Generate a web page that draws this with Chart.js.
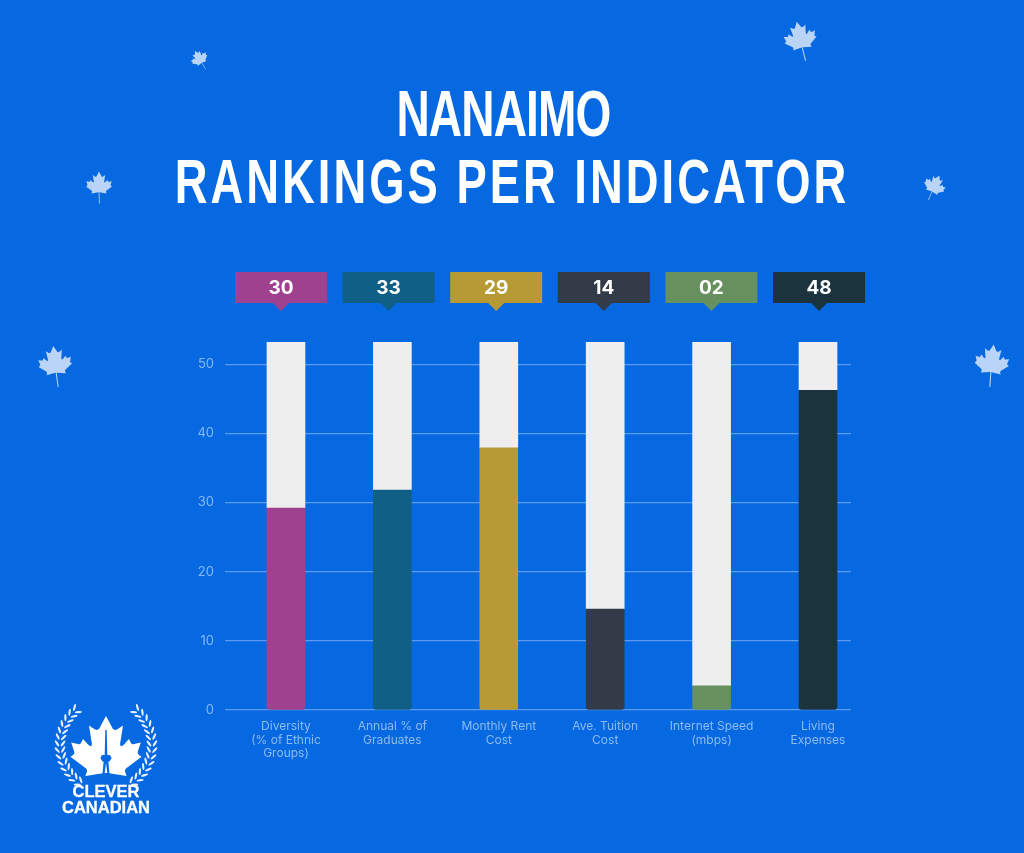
<!DOCTYPE html>
<html lang="en">
<head>
<meta charset="UTF-8">
<title>Nanaimo Rankings Per Indicator</title>
<style>
    html, body { margin: 0; padding: 0; }
    body { width: 1024px; height: 853px; overflow: hidden; background: #0769e2; position: relative; font-family: Inter, Arial, sans-serif; }
    canvas { position: absolute; left: 0; top: 0; }
    svg.deco { position: absolute; left: 0; top: 0; }
    .title { position: absolute; left: 0; text-align: center; color: #fff; font-family: "Liberation Sans", Arial, sans-serif; font-weight: 700; white-space: nowrap; transform: scaleX(0.72); transform-origin: center; }
    .brand { position: absolute; left: 36px; width: 140px; text-align: center; color: #fff; font-family: "Liberation Sans", Arial, sans-serif; font-weight: 700; font-size: 16.5px; line-height: 16px; top: 783px; -webkit-text-stroke: 0.3px #fff; }
</style>
<script src="https://cdn.jsdelivr.net/npm/chart.js"></script>
</head>
<body>
<svg class="deco" id="deco" width="1024" height="853" viewBox="0 0 1024 853">
    <defs>
        <path id="leaf" d="M50 4 L59 21 Q62 25 67 21 L73 17 L69 42 Q69 47 74 43 L81 35 L84 41 Q85 43 88 42 L97 40 L93 52 Q92 55 95 57 L98 59 L77 75 Q75 77 76 80 L78 85 L52 81 L48 81 L22 85 L24 80 Q25 77 23 75 L2 59 L5 57 Q8 55 7 52 L3 40 L12 42 Q15 43 16 41 L19 35 L26 43 Q31 47 31 42 L27 17 L33 21 Q38 25 41 21 Z"/>
        <path id="stem" d="M48.5 78 L51.5 78 L53 122 L50 122 Z"/>
    </defs>
</svg>
<div class="title" style="top:74px;width:1007px;font-size:64px;line-height:80px;letter-spacing:-1.2px;">NANAIMO</div>
<div class="title" style="top:141px;width:1024px;font-size:63px;line-height:80px;letter-spacing:4.2px;">RANKINGS PER INDICATOR</div>
<canvas id="rankChart" width="1024" height="853"></canvas>
<div class="brand">CLEVER<br>CANADIAN</div>
<script>
    const categories = [
        ['Diversity', '(% of Ethnic', 'Groups)'],
        ['Annual % of', 'Graduates'],
        ['Monthly Rent', 'Cost'],
        ['Ave. Tuition', 'Cost'],
        ['Internet Speed', '(mbps)'],
        ['Living', 'Expenses']
    ];
    const rankValues = [29.2, 31.8, 37.9, 14.6, 3.5, 46.2];
    const remainderValues = [24.0, 21.4, 15.3, 38.6, 49.7, 7.0];
    const badgeLabels = ['30', '33', '29', '14', '02', '48'];
    const barColors = ['#a0418f', '#105f86', '#b89a35', '#333a48', '#67905f', '#1b333c'];

    // decorative maple leaves
    const deco = document.getElementById('deco');
    const NS = 'http://www.w3.org/2000/svg';
    function addLeaf(cx, cy, size, angle, color, withStem) {
        const g = document.createElementNS(NS, 'g');
        g.setAttribute('transform', `translate(${cx} ${cy}) rotate(${angle}) scale(${size / 100}) translate(-50 -50)`);
        ['leaf'].concat(withStem ? ['stem'] : []).forEach(id => {
            const u = document.createElementNS(NS, 'use');
            u.setAttribute('href', '#' + id);
            u.setAttribute('fill', color);
            g.appendChild(u);
        });
        deco.appendChild(g);
    }
    const pale = '#b9d4f6';
    addLeaf(199, 58, 18, -30, pale, true);
    addLeaf(800, 37, 34, -12, pale, true);
    addLeaf(99, 184, 27, 0, pale, true);
    addLeaf(935, 185, 23, 25, pale, true);
    addLeaf(55, 362, 35, -6, pale, true);
    addLeaf(992, 361, 36, 6, pale, true);

    // logo: leaf, tower and laurel
    addLeaf(106, 750, 74, 0, '#ffffff', false);
    const tower = document.createElementNS(NS, 'path');
    tower.setAttribute('d', 'M105.3 730 h1.4 l0.6 25 h2.7 l1.6 3 l-2 3.5 h-1.2 l1.4 15.5 h-2 l-1.8 -14 l-1.8 14 h-2 l1.4 -15.5 h-1.2 l-2 -3.5 l1.6 -3 h2.7 z');
    tower.setAttribute('fill', '#0769e2');
    deco.appendChild(tower);
    const laurelCx = 106, laurelCy = 745, laurelR = 46;
    [false, true].forEach(mirror => {
        const g = document.createElementNS(NS, 'g');
        if (mirror) g.setAttribute('transform', `translate(${2 * laurelCx} 0) scale(-1 1)`);
        for (let deg = -50; deg <= 56; deg += 8) {
            const a = deg * Math.PI / 180;
            [[3, 35], [-3, -35]].forEach(([off, turn]) => {
                const x = laurelCx + (laurelR + off) * Math.cos(a);
                const y = laurelCy + (laurelR + off) * Math.sin(a);
                const e = document.createElementNS(NS, 'ellipse');
                e.setAttribute('rx', 1.1);
                e.setAttribute('ry', 3.6);
                e.setAttribute('fill', '#e9f1fc');
                e.setAttribute('transform', `translate(${x} ${y}) rotate(${deg + turn})`);
                g.appendChild(e);
            });
        }
        deco.appendChild(g);
    });

    const badgePlugin = {
        id: 'badges',
        afterDraw(chart) {
            const ctx = chart.ctx;
            const bx = chart.scales.xBadge;
            ctx.save();
            badgeLabels.forEach((label, i) => {
                const cx = bx.getPixelForValue(i);
                ctx.fillStyle = barColors[i];
                ctx.fillRect(cx - 46, 272, 92, 31);
                ctx.beginPath();
                ctx.moveTo(cx - 8, 303);
                ctx.lineTo(cx + 8, 303);
                ctx.lineTo(cx, 311);
                ctx.closePath();
                ctx.fill();
                ctx.fillStyle = '#ffffff';
                ctx.font = '700 19px Inter, Arial, sans-serif';
                ctx.textAlign = 'center';
                ctx.textBaseline = 'middle';
                ctx.fillText(label, cx, 288);
            });
            ctx.restore();
        }
    };

    const ctx = document.getElementById('rankChart').getContext('2d');
    new Chart(ctx, {
        type: 'bar',
        data: {
            datasets: [
                {
                    label: 'Rank',
                    data: rankValues.map((v, i) => ({ x: i, y: v })),
                    backgroundColor: barColors,
                    borderRadius: { topLeft: 0, topRight: 0, bottomLeft: 3, bottomRight: 3 },
                    borderSkipped: false,
                    barThickness: 38
                },
                {
                    label: 'Remainder',
                    data: remainderValues.map((v, i) => ({ x: i, y: v })),
                    backgroundColor: '#eeeeee',
                    barThickness: 38
                }
            ]
        },
        options: {
            responsive: false,
            animation: false,
            layout: { padding: { top: 342, right: 173, left: 0, bottom: 0 } },
            plugins: { legend: { display: false }, tooltip: { enabled: false } },
            scales: {
                x: {
                    type: 'linear',
                    offset: false,
                    stacked: true,
                    min: -0.573,
                    max: 5.31,
                    grid: { display: false, offset: false },
                    border: { display: false },
                    afterFit: s => { s.height = 143; },
                    ticks: {
                        stepSize: 1,
                        includeBounds: false,
                        autoSkip: false,
                        maxRotation: 0,
                        padding: 2,
                        color: '#8dbaf2',
                        font: { family: 'Inter, Arial, sans-serif', size: 12, lineHeight: 1.125 },
                        callback: v => categories[v]
                    }
                },
                xBadge: {
                    type: 'linear',
                    axis: 'x',
                    offset: false,
                    display: false,
                    min: -0.52,
                    max: 5.297
                },
                y: {
                    stacked: true,
                    min: 0,
                    max: 53.2,
                    afterFit: s => { s.width = 225; },
                    grid: { color: '#5a9cf0', drawTicks: false, lineWidth: 1.2 },
                    border: { display: false },
                    ticks: {
                        stepSize: 10,
                        includeBounds: false,
                        padding: 11,
                        color: '#86b7f3',
                        font: { family: 'Inter, Arial, sans-serif', size: 13 }
                    }
                }
            }
        },
        plugins: [badgePlugin]
    });
</script>
</body>
</html>
